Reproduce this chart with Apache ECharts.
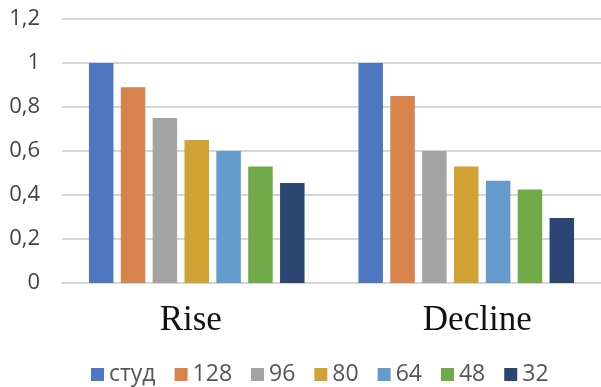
<!DOCTYPE html>
<html>
<head>
<meta charset="utf-8">
<script src="https://cdn.jsdelivr.net/npm/echarts@6/dist/echarts.min.js"></script>
<style>
  html, body { margin: 0; padding: 0; background: #fff; }
  #chart { width: 601px; height: 387px; }
</style>
</head>
<body>
<div id="chart"></div>
<script>
// Groups along the x axis
const categories = ['Rise', 'Decline'];

// One series per configuration, values for [Rise, Decline]
const seriesNames = ['студ', '128', '96', '80', '64', '48', '32'];
const valuesStud = [1.0, 1.0];
const values128 = [0.89, 0.85];
const values96 = [0.75, 0.60];
const values80 = [0.65, 0.53];
const values64 = [0.60, 0.465];
const values48 = [0.53, 0.425];
const values32 = [0.455, 0.295];

const yTicks = { min: 0, max: 1.2, interval: 0.2 };

const palette = ['#4e77c1', '#d6834c', '#a3a3a3', '#d0a233', '#659bcc', '#71ab49', '#2c4573'];
const allValues = [valuesStud, values128, values96, values80, values64, values48, values32];

const chart = echarts.init(document.getElementById('chart'), null, { renderer: 'canvas' });

chart.setOption({
  animation: false,
  backgroundColor: '#ffffff',
  grid: { left: 62, top: 19, width: 541, height: 264, containLabel: false },
  legend: {
    left: 86,
    top: 358,
    itemWidth: 13,
    itemHeight: 13,
    itemGap: 19,
    icon: 'rect',
    textStyle: { fontFamily: 'Open Sans', fontSize: 23, color: '#555555' },
    data: seriesNames
  },
  xAxis: {
    type: 'category',
    data: categories,
    axisTick: { show: false },
    axisLine: { show: true, lineStyle: { color: '#d6d6d6', width: 2 } },
    axisLabel: {
      margin: 20,
      formatter: function (v) { return v === 'Rise' ? '{r|' + v + '}' : '{d|' + v + '}'; },
      rich: {
        r: { fontFamily: 'Liberation Serif', fontSize: 35, color: '#111111', padding: [0, 12, 0, 0] },
        d: { fontFamily: 'Liberation Serif', fontSize: 35, color: '#111111', padding: [0, 0, 0, 22] }
      }
    }
  },
  yAxis: {
    type: 'value',
    min: yTicks.min,
    max: yTicks.max,
    interval: yTicks.interval,
    axisLine: { show: false },
    axisTick: { show: false },
    splitLine: { lineStyle: { color: '#d6d6d6', width: 2 } },
    axisLabel: {
      margin: 22,
      fontFamily: 'Open Sans',
      fontSize: 22,
      color: '#444444',
      formatter: function (v) { return String(Math.round(v * 10) / 10).replace('.', ','); }
    }
  },
  series: seriesNames.map(function (name, i) {
    return {
      name: name,
      type: 'bar',
      data: allValues[i],
      barWidth: 24.5,
      barGap: '30%',
      itemStyle: { color: palette[i] }
    };
  })
});
</script>
</body>
</html>
